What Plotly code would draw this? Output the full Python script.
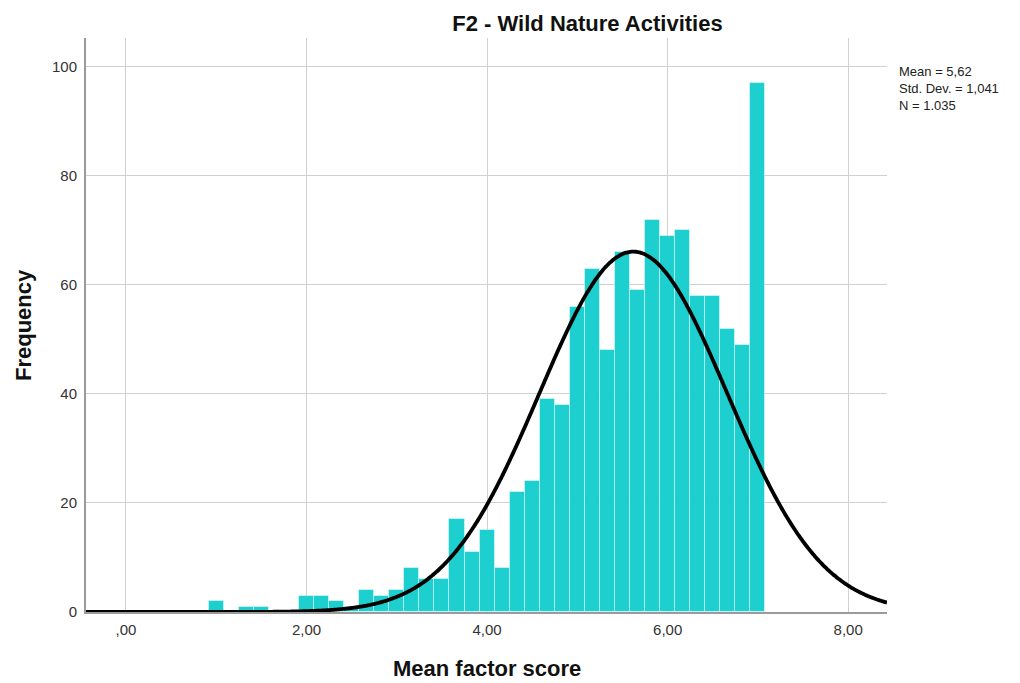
import numpy as np
import plotly.graph_objects as go

# ---- data ----
scores = [1.0, 1.3333, 1.5, 2.0, 2.1667, 2.3333, 2.5, 2.6667, 2.8333, 3.0,
          3.1667, 3.3333, 3.5, 3.6667, 3.8333, 4.0, 4.1667, 4.3333, 4.5, 4.6667,
          4.8333, 5.0, 5.1667, 5.3333, 5.5, 5.6667, 5.8333, 6.0, 6.1667, 6.3333,
          6.5, 6.6667, 6.8333, 7.0]
counts = [2, 1, 1, 3, 3, 2, 1, 4, 3, 4,
          8, 6, 6, 17, 11, 15, 8, 22, 24, 39,
          38, 56, 63, 48, 66, 59, 72, 69, 70, 58,
          58, 52, 49, 97]
bin_width = 1 / 6
mean_val = 5.62
sd_val = 1.041
n_val = 1035

x_tickvals = [0, 2, 4, 6, 8]
x_ticktext = [",00", "2,00", "4,00", "6,00", "8,00"]
y_tickvals = [0, 20, 40, 60, 80, 100]

title_text = "F2 - Wild Nature Activities"
x_title = "Mean factor score"
y_title = "Frequency"
stats_lines = ["Mean = 5,62", "Std. Dev. = 1,041", "N = 1.035"]

# ---- normal curve from the reported statistics ----
x_min, x_max = -0.443, 8.43
xc = np.linspace(x_min, x_max, 600)
yc = n_val * bin_width * np.exp(-0.5 * ((xc - mean_val) / sd_val) ** 2) / (sd_val * np.sqrt(2 * np.pi))

FONT = "Liberation Sans, Arial, sans-serif"

fig = go.Figure()
fig.add_trace(go.Bar(
    x=scores, y=counts, width=bin_width,
    marker=dict(color="#1ecfcf", line=dict(color="rgba(255,255,255,0.45)", width=1)),
    hoverinfo="x+y", showlegend=False,
))
fig.add_trace(go.Scatter(
    x=xc, y=yc, mode="lines",
    line=dict(color="black", width=3.8, shape="spline"),
    hoverinfo="skip", showlegend=False,
))

# page body adds an 8px margin; compensate so the plot lands where the reference has it
W, H = 1012, 675
L, R, T, B = 78, 133, 30, 71

fig.update_layout(
    width=W, height=H,
    margin=dict(l=L, r=R, t=T, b=B, pad=0),
    plot_bgcolor="white", paper_bgcolor="white",
    bargap=0,
    font=dict(family=FONT, color="#222"),
    title=dict(text="<b>" + title_text + "</b>", x=579.5 / W, xref="container", xanchor="center",
               y=1 - 15 / H, yref="container", yanchor="middle",
               font=dict(size=22, color="#111", family=FONT)),
    xaxis=dict(range=[x_min, x_max], tickvals=x_tickvals, ticktext=x_ticktext,
               showgrid=True, gridcolor="#d0d0d0", gridwidth=1.3,
               showline=True, linecolor="#9a9a9a", linewidth=1.5,
               ticks="outside", ticklen=3, tickcolor="rgba(0,0,0,0)",
               tickfont=dict(size=15, color="#333", family=FONT), zeroline=False),
    yaxis=dict(range=[0, 105.3], tickvals=y_tickvals,
               showgrid=True, gridcolor="#d0d0d0", gridwidth=1.3,
               showline=True, linecolor="#9a9a9a", linewidth=2,
               ticks="outside", ticklen=4, tickcolor="rgba(0,0,0,0)",
               tickfont=dict(size=15, color="#333", family=FONT), zeroline=False),
)

annos = [
    dict(text="<b>" + x_title + "</b>", x=0.5, y=0, xref="paper", yref="paper",
         xanchor="center", yanchor="middle", yshift=-56, showarrow=False,
         font=dict(size=22, color="#111", family=FONT)),
    dict(text="<b>" + y_title + "</b>", x=0, y=0.5, xref="paper", yref="paper",
         xanchor="center", yanchor="middle", xshift=-63, textangle=-90, showarrow=False,
         font=dict(size=22, color="#111", family=FONT)),
    dict(text="<br>".join(stats_lines), x=1, y=1, xref="paper", yref="paper",
         xanchor="left", yanchor="middle", xshift=10, yshift=-50, align="left",
         showarrow=False, font=dict(size=13, color="#222", family=FONT)),
]
fig.update_layout(annotations=annos)

fig.write_html("out.html")
